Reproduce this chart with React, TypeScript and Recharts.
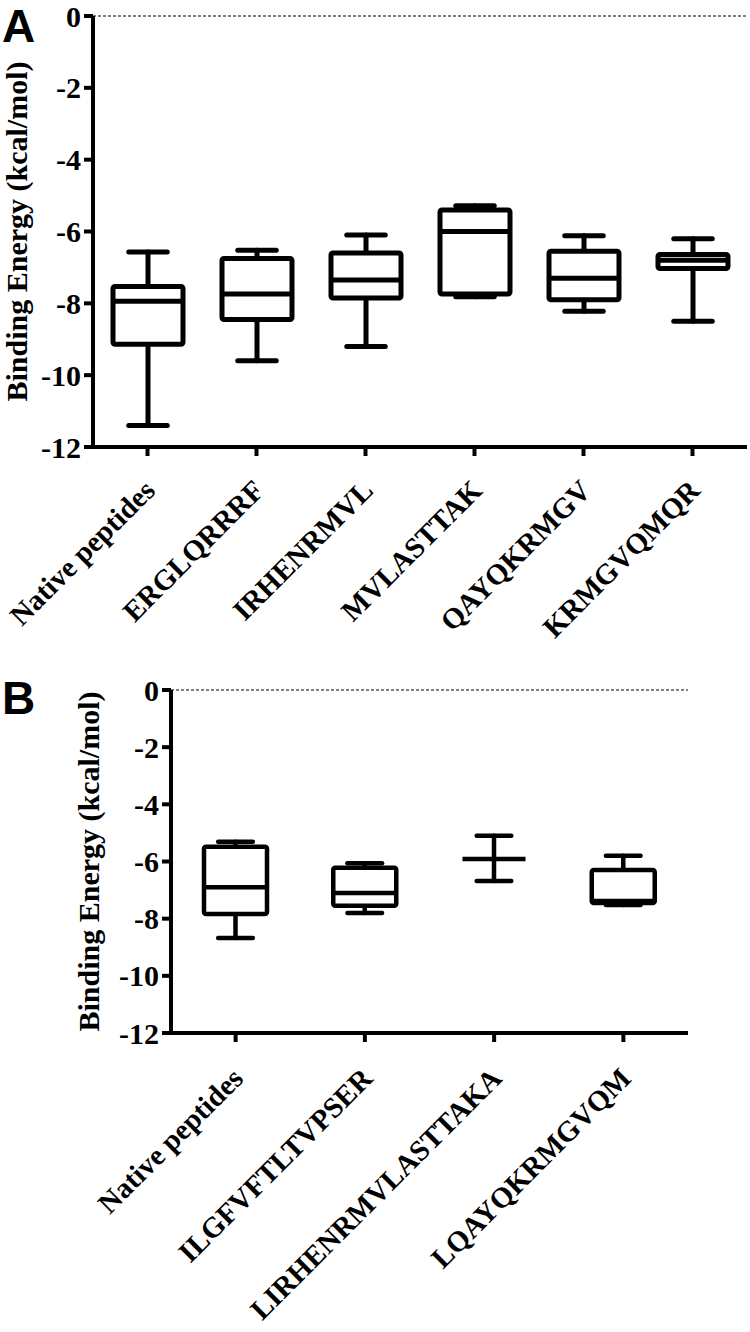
import React from 'react'
import { ComposedChart, Bar, XAxis, YAxis, ReferenceLine } from 'recharts'

// panel A
const catsA = ['Native peptides', 'ERGLQRRRF', 'IRHENRMVL', 'MVLASTTAK', 'QAYQKRMGV', 'KRMGVQMQR']
const minA = [-11.4, -9.6, -9.2, -7.82, -8.22, -8.5]
const q1A = [-9.14, -8.45, -7.85, -7.74, -7.9, -7.03]
const medA = [-7.94, -7.74, -7.35, -6.0, -7.3, -6.8]
const q3A = [-7.53, -6.75, -6.6, -5.4, -6.55, -6.64]
const maxA = [-6.57, -6.52, -6.1, -5.28, -6.12, -6.2]

// panel B
const catsB = ['Native peptides', 'ILGFVFTLTVPSER', 'LIRHENRMVLASTTAKA', 'LQAYQKRMGVQM']
const minB = [-8.68, -7.8, -6.68, -7.52]
const q1B = [-7.84, -7.55, -5.91, -7.45]
const medB = [-6.9, -7.1, -5.91, -7.38]
const q3B = [-5.48, -6.22, -5.91, -6.3]
const maxB = [-5.31, -6.06, -5.1, -5.8]

const yTicks = [0, -2, -4, -6, -8, -10, -12]
const SERIF = '"Liberation Serif", "Times New Roman", serif'

const build = (cats: string[], mn: number[], q1: number[], md: number[], q3: number[], mx: number[]) =>
  cats.map((name, i) => ({ name, range: [mn[i], mx[i]], q1: q1[i], med: md[i], q3: q3[i] }))

const dataA = build(catsA, minA, q1A, medA, q3A, maxA)
const dataB = build(catsB, minB, q1B, medB, q3B, maxB)

// box + whiskers drawn inside the bar that spans min..max
const BoxShape = (props: any) => {
  const { x, y, width, height, payload, sw } = props
  const top = Math.min(y, y + height)
  const h = Math.abs(height)
  const [lo, hi] = payload.range
  const py = (v: number) => (hi === lo ? top : top + ((hi - v) / (hi - lo)) * h)
  const cx = x + width / 2
  const cap = width * 0.55
  const line = { stroke: '#000', strokeWidth: sw, strokeLinecap: 'round' as const }
  const yMax = py(hi), yQ3 = py(payload.q3), yMed = py(payload.med), yQ1 = py(payload.q1), yMin = py(lo)
  return (
    <g>
      <line x1={cx} x2={cx} y1={yMax} y2={yQ3} {...line} />
      <line x1={cx} x2={cx} y1={yQ1} y2={yMin} {...line} />
      <line x1={cx - cap / 2} x2={cx + cap / 2} y1={yMax} y2={yMax} {...line} />
      <line x1={cx - cap / 2} x2={cx + cap / 2} y1={yMin} y2={yMin} {...line} />
      {yQ1 - yQ3 > 0.5 && (
        <rect x={x} y={yQ3} width={width} height={yQ1 - yQ3} fill="#fff" stroke="#000" strokeWidth={sw} rx={2} />
      )}
      <line x1={x} x2={x + width} y1={yMed} y2={yMed} stroke="#000" strokeWidth={sw} />
    </g>
  )
}

const XTick = (props: any) => {
  const { x, y, payload, dx, dy, size } = props
  return (
    <g transform={`translate(${x + dx},${y + dy}) rotate(-45)`}>
      <text x={0} y={0} dy="0.35em" textAnchor="end" fontFamily={SERIF} fontWeight="bold" fontSize={size} fill="#000">
        {payload.value}
      </text>
    </g>
  )
}

const YTitle = (props: any) => {
  const { viewBox, tx } = props
  const cy = viewBox.y + viewBox.height / 2
  return (
    <text x={tx} y={cy} transform={`rotate(-90, ${tx}, ${cy})`} textAnchor="middle" dy="0.35em"
      fontFamily={SERIF} fontWeight="bold" fontSize={30} fill="#000">
      Binding Energy (kcal/mol)
    </text>
  )
}

type PanelProps = {
  data: any[]
  height: number
  margin: any
  yWidth: number
  xHeight: number
  barSize: number
  sw: number
  titleX: number
  labelDy: number
  labelSize: number
}

function Panel({ data, height, margin, yWidth, xHeight, barSize, sw, titleX, labelDy, labelSize }: PanelProps) {
  return (
    <ComposedChart width={750} height={height} data={data} margin={margin} style={{ overflow: 'visible' }}>
      <XAxis
        dataKey="name"
        interval={0}
        height={xHeight}
        axisLine={{ stroke: '#000', strokeWidth: 4 }}
        tickLine={{ stroke: '#000', strokeWidth: 4 }}
        tickSize={9}
        tick={<XTick dx={2} dy={labelDy} size={labelSize} />}
      />
      <YAxis
        domain={[-12, 0]}
        ticks={yTicks}
        interval={0}
        width={yWidth}
        allowDataOverflow
        axisLine={{ stroke: '#000', strokeWidth: 4 }}
        tickLine={{ stroke: '#000', strokeWidth: 4 }}
        tickSize={9}
        tickMargin={3}
        tick={{ fontFamily: SERIF, fontWeight: 'bold', fontSize: 30, fill: '#000' }}
        label={{ content: (p: any) => <YTitle {...p} tx={titleX} /> }}
      />
      <ReferenceLine y={0} stroke="#000" strokeWidth={1.2} strokeDasharray="3 2" />
      <Bar dataKey="range" barSize={barSize} isAnimationActive={false} shape={(p: any) => <BoxShape {...p} sw={sw} />} />
    </ComposedChart>
  )
}

const letter: React.CSSProperties = {
  position: 'absolute',
  left: 2,
  fontFamily: '"Liberation Sans", Arial, sans-serif',
  fontWeight: 'bold',
  fontSize: 46,
  lineHeight: 1.15,
  color: '#000',
}

export default function App() {
  return (
    <div style={{ position: 'absolute', left: 0, top: 0, width: 750, height: 1332, background: '#fff', overflow: 'hidden' }}>
      <div style={{ position: 'absolute', left: 0, top: 0 }}>
        <Panel
          data={dataA}
          height={660}
          margin={{ top: 16, right: 3, left: 0, bottom: 0 }}
          yWidth={93}
          xHeight={213}
          barSize={70}
          sw={5}
          titleX={16}
          labelDy={27}
          labelSize={29}
        />
      </div>
      <div style={{ position: 'absolute', left: 0, top: 650 }}>
        <Panel
          data={dataB}
          height={682}
          margin={{ top: 40, right: 62, left: 0, bottom: 0 }}
          yWidth={171}
          xHeight={299}
          barSize={63}
          sw={4.5}
          titleX={88}
          labelDy={29}
          labelSize={29}
        />
      </div>
      <div style={{ ...letter, top: 0 }}>A</div>
      <div style={{ ...letter, top: 672 }}>B</div>
    </div>
  )
}
